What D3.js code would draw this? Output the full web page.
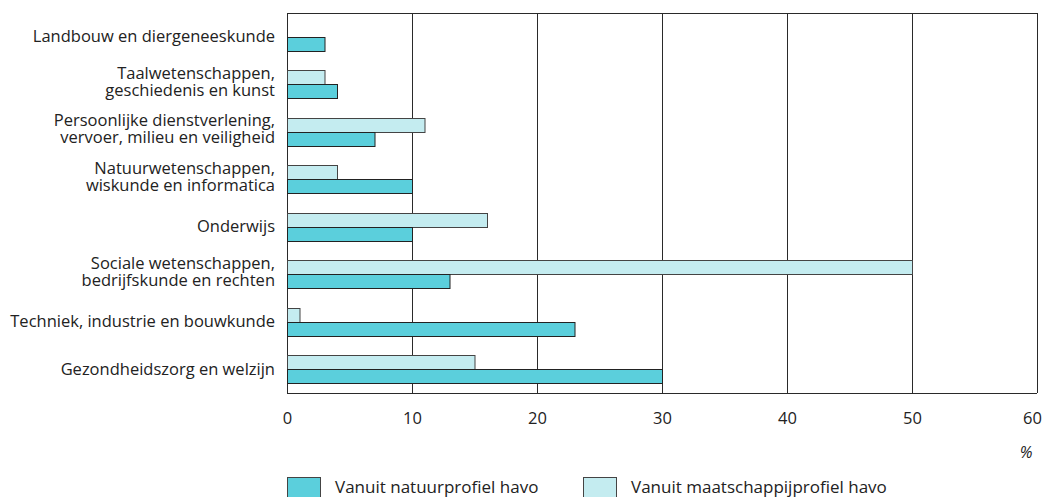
<!DOCTYPE html>
<html><head><meta charset="utf-8">
<script src="https://cdn.jsdelivr.net/npm/d3@7"></script>
<style>
body{margin:0;background:#fff;}
svg text{font-family:"Open Sans",sans-serif;fill:#222;}
</style></head>
<body><svg id="c" width="1044" height="497"></svg>
<script>
const categories = [
  ["Landbouw en diergeneeskunde"],
  ["Taalwetenschappen,","geschiedenis en kunst"],
  ["Persoonlijke dienstverlening,","vervoer, milieu en veiligheid"],
  ["Natuurwetenschappen,","wiskunde en informatica"],
  ["Onderwijs"],
  ["Sociale wetenschappen,","bedrijfskunde en rechten"],
  ["Techniek, industrie en bouwkunde"],
  ["Gezondheidszorg en welzijn"]
];
const natuur = [3, 4, 7, 10, 10, 13, 23, 30];
const maatschappij = [0, 3, 11, 4, 16, 50, 1, 15];
const xTicks = [0, 10, 20, 30, 40, 50, 60];
const seriesNames = ["Vanuit natuurprofiel havo", "Vanuit maatschappijprofiel havo"];
const colors = ["#5bcfdc", "#c4ecf0"];

const svg = d3.select("#c");
const L = 287, R = 1037, T = 13, B = 393;
const x = d3.scaleLinear().domain([0, 60]).range([L, R]);
const y = d3.scaleBand().domain(d3.range(categories.length)).range([T, B]);
const bh = 14;

// gridlines
svg.append("g").selectAll("line").data(xTicks.slice(1)).join("line")
  .attr("x1", d => Math.round(x(d)) + 0.5).attr("x2", d => Math.round(x(d)) + 0.5).attr("y1", T).attr("y2", B)
  .attr("stroke", "#2a2a2a").attr("stroke-width", 1);
svg.append("line").attr("x1", L).attr("x2", R).attr("y1", T+0.5).attr("y2", T+0.5).attr("stroke", "#2a2a2a");
svg.append("line").attr("x1", L+0.5).attr("x2", L+0.5).attr("y1", T).attr("y2", B).attr("stroke", "#2a2a2a");

// bars
const g = svg.append("g");
categories.forEach((c, i) => {
  const cy = Math.round(y(i) + y.bandwidth()/2);
  if (maatschappij[i] > 0)
    g.append("rect").attr("x", x(0) + 0.5).attr("y", cy - bh + 0.5).attr("width", x(maatschappij[i]) - x(0)).attr("height", bh)
      .attr("fill", colors[1]).attr("stroke", "#444").attr("stroke-width", 1);
  g.append("rect").attr("x", x(0) + 0.5).attr("y", cy + 0.5).attr("width", x(natuur[i]) - x(0)).attr("height", bh)
    .attr("fill", colors[0]).attr("stroke", "#222").attr("stroke-width", 1);
});

svg.append("line").attr("x1", L).attr("x2", R).attr("y1", B+0.5).attr("y2", B+0.5).attr("stroke", "#2a2a2a");

// category labels
categories.forEach((c, i) => {
  const cy = y(i) + y.bandwidth()/2;
  const lh = 17;
  const t = svg.append("text").attr("text-anchor", "end").attr("font-size", 16.5);
  c.forEach((line, j) => {
    const off = c.length === 1 ? 5.5 : (j - 0.5) * lh + 3;
    t.append("tspan").attr("x", 275).attr("y", cy + off).text(line);
  });
});

// x axis labels
const ax = svg.append("g").attr("transform", `translate(0,${B})`)
  .call(d3.axisBottom(x).tickValues(xTicks).tickSize(0).tickPadding(19));
ax.select(".domain").remove();
ax.selectAll("text").attr("font-size", 16.5).attr("font-family", "Open Sans, sans-serif").attr("fill", "#222")
  .attr("dx", d => d === 60 ? -5 : 0);
svg.append("text").attr("x", 1026).attr("y", 458).attr("text-anchor", "middle").attr("font-size", 16)
  .attr("font-style", "italic").text("%");

// legend
const lx = [287, 583];
seriesNames.forEach((n, i) => {
  svg.append("rect").attr("x", lx[i] + 0.5).attr("y", 477.5).attr("width", 33).attr("height", 21)
    .attr("fill", colors[i]).attr("stroke", "#444");
  svg.append("text").attr("x", lx[i] + 48).attr("y", 493).attr("font-size", 17).text(n);
});
</script></body></html>
